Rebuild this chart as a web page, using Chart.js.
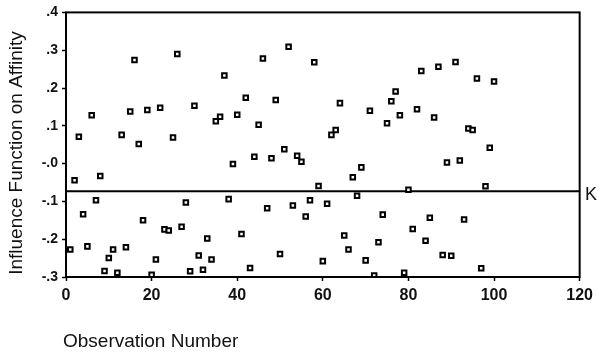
<!DOCTYPE html>
<html>
<head>
<meta charset="utf-8">
<script src="https://cdn.jsdelivr.net/npm/chart.js@4"></script>
<style>
  html, body { margin: 0; padding: 0; background: #fff; }
  #wrap { width: 598px; height: 355px; }
</style>
</head>
<body>
<div id="wrap"><canvas id="chartInfluence"></canvas></div>
<script>

// influence of each observation (1..100) on the affinity estimate
const influence = [
  -0.227, -0.044, 0.071, -0.134, -0.219, 0.128, -0.097, -0.033, -0.284, -0.250,
  -0.227, -0.289, 0.076, -0.221, 0.138, 0.274, 0.052, -0.150, 0.142, -0.294,
  -0.254, 0.148, -0.174, -0.177, 0.069, 0.290, -0.167, -0.103, -0.285, 0.153,
  -0.243, -0.281, -0.198, -0.254, 0.112, 0.124, 0.233, -0.094, -0.001, 0.129,
  -0.186, 0.174, -0.276, 0.018, 0.103, 0.278, -0.118, 0.014, 0.168, -0.239,
  0.038, 0.309, -0.111, 0.021, 0.005, -0.140, -0.097, 0.268, -0.059, -0.258,
  -0.106, 0.076, 0.089, 0.160, -0.190, -0.227, -0.036, -0.085, -0.010, -0.256,
  0.140, -0.296, -0.208, -0.135, 0.107, 0.165, 0.191, 0.128, -0.289, -0.069,
  -0.173, 0.144, 0.245, -0.204, -0.143, 0.122, 0.256, -0.242, 0.003, -0.244,
  0.269, 0.008, -0.148, 0.093, 0.089, 0.225, -0.277, -0.060, 0.042, 0.217
];

// cut-off line K
const cutoffK = -0.073;
const xRange = [0, 120];
const yRange = [-0.3, 0.4];

const titleY = 'Influence Function on Affinity';
const titleX = 'Observation Number';

let points = influence.map((v, i) => ({ x: i + 1, y: v }));
let lineK = xRange.map(x => ({ x: x, y: cutoffK }));

// frame, axis titles and the K label
const frameText = {
  id: 'frameText',
  afterDraw: function (chart) {
    let ctx = chart.ctx;
    let area = chart.chartArea;
    let yScale = chart.scales.y;

    ctx.save();
    ctx.strokeStyle = '#000';
    ctx.lineWidth = 2;
    ctx.strokeRect(area.left, area.top, area.right - area.left, area.bottom - area.top);

    ctx.fillStyle = '#111';
    ctx.font = '19px "Liberation Sans", Arial, sans-serif';
    ctx.textBaseline = 'middle';

    ctx.textAlign = 'left';
    ctx.fillText(titleX, 63, 342);

    ctx.font = '18px "Liberation Sans", Arial, sans-serif';
    ctx.fillText('K', 585, yScale.getPixelForValue(cutoffK) + 4);

    ctx.translate(17, 153);
    ctx.rotate(-Math.PI / 2);
    ctx.textAlign = 'center';
    ctx.font = '19px "Liberation Sans", Arial, sans-serif';
    ctx.fillText(titleY, 0, 0);
    ctx.restore();
  }
};

let chartCtx = document.getElementById('chartInfluence').getContext('2d');

new Chart(chartCtx, {
  type: 'scatter',
  data: {
    datasets: [
      {
        label: 'Influence',
        data: points,
        pointStyle: 'rect',
        pointRadius: 3.2,
        pointBorderWidth: 2,
        pointBackgroundColor: '#fff',
        pointBorderColor: '#000',
        showLine: false
      },
      {
        label: 'K',
        data: lineK,
        showLine: true,
        borderColor: '#000',
        borderWidth: 2,
        pointRadius: 0
      }
    ]
  },
  options: {
    responsive: true,
    maintainAspectRatio: false,
    animation: false,
    layout: { padding: { top: 11, right: 16, left: 0, bottom: 0 } },
    plugins: {
      legend: { display: false },
      tooltip: { enabled: false }
    },
    scales: {
      x: {
        type: 'linear',
        min: xRange[0],
        max: xRange[1],
        border: { display: false },
        grid: { drawOnChartArea: false, tickLength: 4, color: '#000', tickWidth: 1.5 },
        ticks: {
          stepSize: 20,
          padding: 5,
          color: '#111',
          font: { family: '"Liberation Sans", Arial, sans-serif', size: 16, weight: 'bold' }
        },
        afterFit: scale => { scale.height = 78; }
      },
      y: {
        min: yRange[0],
        max: yRange[1],
        border: { display: false },
        grid: { drawOnChartArea: false, tickLength: 4, color: '#000', tickWidth: 1.5 },
        ticks: {
          stepSize: 0.1,
          padding: 4,
          color: '#111',
          font: { family: '"Liberation Sans", Arial, sans-serif', size: 14, weight: 'bold' },
          callback: v => {
            let r = Math.round(v * 10);
            return (r <= 0 ? '-' : '') + '.' + Math.abs(r);
          }
        },
        afterFit: scale => { scale.width = 66; }
      }
    }
  },
  plugins: [frameText]
});
</script>
</body>
</html>
